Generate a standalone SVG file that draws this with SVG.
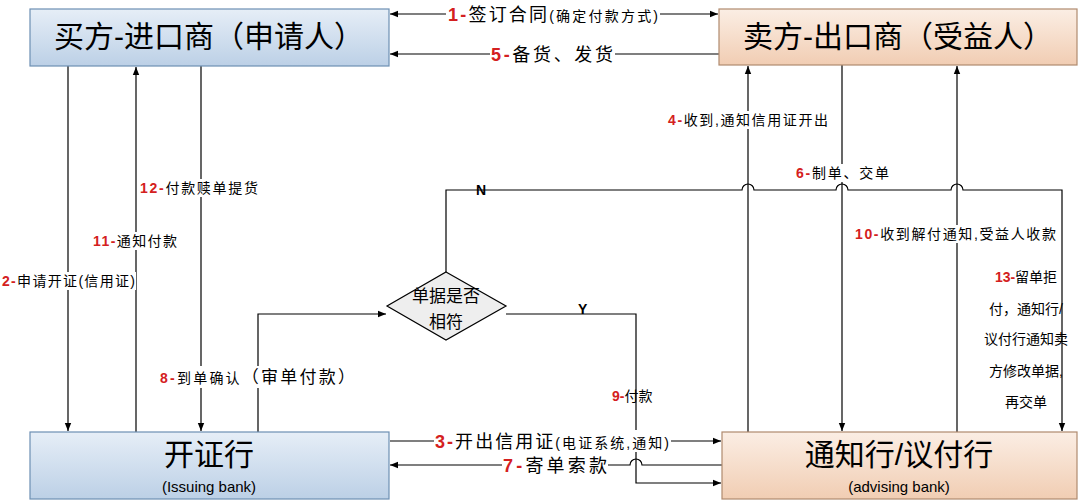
<svg xmlns="http://www.w3.org/2000/svg" width="1080" height="503" viewBox="0 0 1080 503">
<style>
text{font-family:"Liberation Sans","Noto Sans CJK SC",sans-serif;fill:#000}
.big{font-size:30px}
.lab{font-size:14px}
.mid{font-size:18px}
.r{fill:#d42020;font-weight:bold}
.ln{fill:none;stroke:#000;stroke-width:1.2}
.bb{stroke:#6d8fb3;stroke-width:1.2;fill:url(#gb)}
.pb{stroke:#b08a6e;stroke-width:1.2;fill:url(#gp)}
.bg{fill:#fff}
</style>
<defs>
<linearGradient id="gb" x1="0" y1="0" x2="0" y2="1"><stop offset="0" stop-color="#e6eef7"/><stop offset="1" stop-color="#bcd0e6"/></linearGradient>
<linearGradient id="gp" x1="0" y1="0" x2="0" y2="1"><stop offset="0" stop-color="#fbeee4"/><stop offset="1" stop-color="#f1cdb3"/></linearGradient>
<marker id="a" viewBox="0 0 10 10" refX="10" refY="5" markerWidth="7" markerHeight="7" orient="auto-start-reverse"><path d="M0,1 L10,5 L0,9 z" fill="#000"/></marker>
</defs>
<rect width="1080" height="503" fill="#fff"/>
<g id="connectors">
<path class="ln" d="M390,14 H718" marker-start="url(#a)" marker-end="url(#a)"/>
<path class="ln" d="M719,54 H390" marker-end="url(#a)"/>
<path class="ln" d="M68,66 V431" marker-end="url(#a)"/>
<path class="ln" d="M136,432 V67" marker-end="url(#a)"/>
<path class="ln" d="M201,66 V431" marker-end="url(#a)"/>
<path class="ln" d="M258,432 V314 H386" marker-end="url(#a)"/>
<path class="ln" d="M446,272 V190 H742 a6,6 0 0 1 12,0 H836 a6,6 0 0 1 12,0 H951 a6,6 0 0 1 12,0 H1062 V431" marker-end="url(#a)"/>
<path class="ln" d="M506,314 H636 V483 H721" marker-end="url(#a)"/>
<path class="ln" d="M390,441 H721" marker-end="url(#a)"/>
<path class="ln" d="M722,465 H642 a6,6 0 0 0 -12,0 H390" marker-end="url(#a)"/>
<path class="ln" d="M748,432 V66" marker-end="url(#a)"/>
<path class="ln" d="M842,65 V431" marker-end="url(#a)"/>
<path class="ln" d="M957,432 V66" marker-end="url(#a)"/>
</g>
<g id="labels">
<rect class="bg" x="446" y="4" width="214" height="22"/>
<text x="448" y="21" class="mid" textLength="210" lengthAdjust="spacing"><tspan class="r">1-</tspan>签订合同<tspan font-size="14">(确定付款方式)</tspan></text>
<rect class="bg" x="490" y="43" width="125" height="22"/>
<text x="491" y="61" class="mid" textLength="122" lengthAdjust="spacing"><tspan class="r">5-</tspan>备货、发货</text>
<rect class="bg" x="434" y="430" width="237" height="22"/>
<text x="435" y="448" class="mid" textLength="234" lengthAdjust="spacing"><tspan class="r">3-</tspan>开出信用证<tspan font-size="14">(电证系统,通知)</tspan></text>
<rect class="bg" x="502" y="455" width="106" height="20"/>
<text x="503" y="472" class="mid" textLength="104" lengthAdjust="spacing"><tspan class="r">7-</tspan>寄单索款</text>
<rect class="bg" x="1" y="272" width="135" height="18"/>
<text x="2" y="286" class="lab" textLength="133" lengthAdjust="spacing"><tspan class="r">2-</tspan>申请开证(信用证)</text>
<rect class="bg" x="92" y="232" width="86" height="18"/>
<text x="93" y="246" class="lab" textLength="84" lengthAdjust="spacing"><tspan class="r">11-</tspan>通知付款</text>
<rect class="bg" x="139" y="179" width="120" height="18"/>
<text x="140" y="193" class="lab" textLength="118" lengthAdjust="spacing"><tspan class="r">12-</tspan>付款赎单提货</text>
<rect class="bg" x="159" y="366" width="197" height="22"/>
<text x="160" y="383" class="lab" textLength="195" lengthAdjust="spacing"><tspan class="r">8-</tspan>到单确认<tspan font-size="17">（审单付款）</tspan></text>
<text x="476" y="195" class="lab" font-weight="bold">N</text>
<text x="578" y="314" class="lab" font-weight="bold">Y</text>
<text x="612" y="401" class="lab"><tspan class="r">9-</tspan>付款</text>
<rect class="bg" x="667" y="111" width="163" height="18"/>
<text x="668" y="125" class="lab" textLength="160" lengthAdjust="spacing"><tspan class="r">4-</tspan>收到,通知信用证开出</text>
<rect class="bg" x="795" y="164" width="95" height="18"/>
<text x="796" y="178" class="lab" textLength="93" lengthAdjust="spacing"><tspan class="r">6-</tspan>制单、交单</text>
<rect class="bg" x="854" y="225" width="203" height="18"/>
<text x="855" y="239" class="lab" textLength="201" lengthAdjust="spacing"><tspan class="r">10-</tspan>收到解付通知,受益人收款</text>
<g class="lab" text-anchor="middle">
<text x="1026" y="282"><tspan class="r">13-</tspan>留单拒</text>
<text x="1026" y="314">付，通知行/</text>
<text x="1026" y="344">议付行通知卖</text>
<text x="1026" y="376">方修改单据,</text>
<text x="1026" y="407">再交单</text>
</g>
</g>
<g id="buyer"><rect class="bb" x="30" y="9" width="359" height="57"/><text x="209" y="47" class="big" text-anchor="middle">买方-进口商（申请人）</text></g>
<g id="seller"><rect class="pb" x="719" y="9" width="358" height="56"/><text x="898" y="47" class="big" text-anchor="middle">卖方-出口商（受益人）</text></g>
<g id="issuing"><rect class="bb" x="30" y="432" width="359" height="67"/><text x="209" y="465" class="big" text-anchor="middle">开证行</text><text x="209" y="492" font-size="15" text-anchor="middle">(Issuing bank)</text></g>
<g id="advising"><rect class="pb" x="722" y="432" width="355" height="67"/><text x="899" y="465" class="big" text-anchor="middle">通知行/议付行</text><text x="899" y="492" font-size="15" text-anchor="middle">(advising bank)</text></g>
<g id="decision"><path d="M446,272 L506,306 L446,340 L387,306 Z" fill="#eeeeee" stroke="#000" stroke-width="1.2"/><text x="446" y="302" font-size="17" text-anchor="middle">单据是否</text><text x="446" y="328" font-size="17" text-anchor="middle">相符</text></g>
</svg>
